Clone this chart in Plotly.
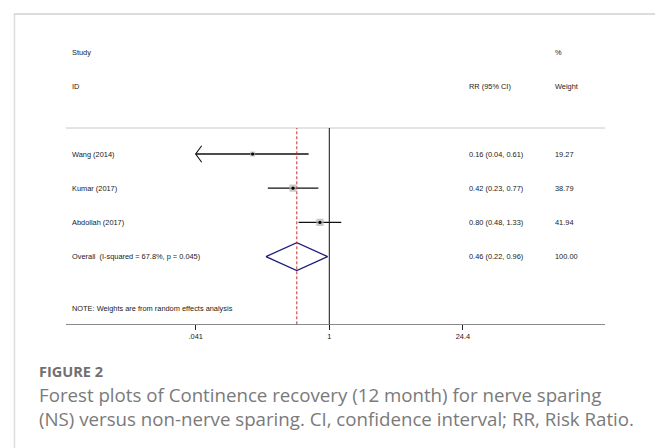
import plotly.graph_objects as go
import numpy as np

# ---------------- data ----------------
studies = ["Wang (2014)", "Kumar (2017)", "Abdollah (2017)"]
rr = [0.16, 0.42, 0.80]
ci_low = [0.04, 0.23, 0.48]
ci_high = [0.61, 0.77, 1.33]
weights = [19.27, 38.79, 41.94]
rr_text = ["0.16 (0.04, 0.61)", "0.42 (0.23, 0.77)", "0.80 (0.48, 1.33)"]
weight_text = ["19.27", "38.79", "41.94"]

overall_label = "Overall\u00a0 (I-squared = 67.8%, p = 0.045)"
overall_rr = 0.46
overall_low = 0.22
overall_high = 0.96
overall_rr_text = "0.46 (0.22, 0.96)"
overall_weight_text = "100.00"

note_text = "NOTE: Weights are from random effects analysis"
tick_vals = [0.041, 1, 24.4]
tick_text = [".041", "1", "24.4"]
axis_min = 0.041

fig_title = "FIGURE 2"
caption_lines = [
    "Forest plots of Continence recovery (12 month) for nerve sparing",
    "(NS) versus non-nerve sparing. CI, confidence interval; RR, Risk Ratio.",
]

# ---------------- layout helpers ----------------
W, H = 655, 448
def px(x):
    return x / W
def py(y):
    return (H - y) / H

PLOT_L, PLOT_R = 66, 605
PLOT_T, PLOT_B = 128, 324.3
ROW0, ROWH = 154, 34.2
XPX_ONE, XPX_PER_DEC = 329.3, 96.32

def row_of(pixel_y):
    return (pixel_y - ROW0) / ROWH

x_range = [(PLOT_L - XPX_ONE) / XPX_PER_DEC, (PLOT_R - XPX_ONE) / XPX_PER_DEC]
y_range = [row_of(PLOT_B), row_of(PLOT_T)]

TXT = dict(family="Liberation Sans, Arial, sans-serif", size=7.4, color="#1a1a1a")

fig = go.Figure()

rows = list(range(len(studies)))
overall_row = len(studies)
note_row = row_of(308)

# CI lines
xs, ys = [], []
for i in rows:
    xs += [max(ci_low[i], axis_min), ci_high[i], None]
    ys += [i, i, None]
fig.add_trace(go.Scatter(x=xs, y=ys, mode="lines",
                         line=dict(color="#111111", width=1.3),
                         hoverinfo="skip", showlegend=False))

# arrows for clipped lower CI
ax, ay = [], []
arm_dx = 10 ** (6 / XPX_PER_DEC)
arm_dy = 8.3 / ROWH
for i in rows:
    if ci_low[i] < axis_min:
        ax += [axis_min * arm_dx, axis_min, axis_min * arm_dx, None]
        ay += [i - arm_dy, i, i + arm_dy, None]
fig.add_trace(go.Scatter(x=ax, y=ay, mode="lines",
                         line=dict(color="#111111", width=1.1),
                         hoverinfo="skip", showlegend=False))

# weight boxes
fig.add_trace(go.Scatter(x=rr, y=rows, mode="markers",
                         marker=dict(symbol="square", color="#b4b4b4",
                                     size=[1.15 * np.sqrt(w) for w in weights],
                                     line=dict(width=0)),
                         hoverinfo="skip", showlegend=False))
# point estimates
fig.add_trace(go.Scatter(x=rr, y=rows, mode="markers",
                         marker=dict(symbol="circle", color="#000000", size=3.2),
                         hoverinfo="skip", showlegend=False))

# overall diamond
dh = 14 / ROWH
fig.add_trace(go.Scatter(
    x=[overall_low, overall_rr, overall_high, overall_rr, overall_low],
    y=[overall_row, overall_row - dh, overall_row, overall_row + dh, overall_row],
    mode="lines", line=dict(color="#1c1c80", width=1.3),
    hoverinfo="skip", showlegend=False))

shapes = [
    # frame
    dict(type="line", xref="paper", yref="paper", x0=px(14), x1=1.0,
         y0=py(14), y1=py(14), line=dict(color="#dcdcdc", width=2)),
    dict(type="line", xref="paper", yref="paper", x0=px(14.5), x1=px(14.5),
         y0=py(14), y1=0, line=dict(color="#dcdcdc", width=1.5)),
    # top rule of plot
    dict(type="line", xref="paper", yref="paper", x0=px(PLOT_L), x1=px(PLOT_R),
         y0=py(PLOT_T), y1=py(PLOT_T), line=dict(color="#c8c8c8", width=1)),
    # null line
    dict(type="line", xref="x", yref="y domain", x0=1, x1=1, y0=0, y1=1,
         line=dict(color="#111111", width=1)),
    # overall dashed line
    dict(type="line", xref="x", yref="y domain", x0=overall_rr, x1=overall_rr,
         y0=0, y1=1, line=dict(color="#cc2a2a", width=1, dash="3px,2px")),
]

ann = []
def add_text(x, y, text, yref="paper", font=TXT, xanchor="left"):
    ann.append(dict(x=x, y=y, xref="paper", yref=yref, text=text,
                    showarrow=False, xanchor=xanchor, yanchor="middle",
                    font=font))

X_STUDY, X_RR, X_W = px(70), px(467), px(553)
# headers
add_text(X_STUDY, py(52), "Study")
add_text(X_W, py(52), "%")
add_text(X_STUDY, py(86), "ID")
add_text(X_RR, py(86), "RR (95% CI)")
add_text(X_W, py(86), "Weight")

for i in rows:
    add_text(X_STUDY, i, studies[i], yref="y")
    add_text(X_RR, i, rr_text[i], yref="y")
    add_text(X_W, i, weight_text[i], yref="y")
add_text(X_STUDY, overall_row, overall_label, yref="y")
add_text(X_RR, overall_row, overall_rr_text, yref="y")
add_text(X_W, overall_row, overall_weight_text, yref="y")
add_text(X_STUDY, note_row, note_text, yref="y")

# caption
CAP = dict(family="Open Sans, sans-serif", size=18.7, color="#7a7a7a")
add_text(px(37), py(371), "<b>" + fig_title + "</b>",
         font=dict(family="Open Sans, sans-serif", size=14.5, color="#707070"))
add_text(px(37), py(394), caption_lines[0], font=CAP)
add_text(px(37), py(418), caption_lines[1], font=CAP)

fig.update_layout(
    width=W, height=H, margin=dict(l=0, r=0, t=0, b=0),
    paper_bgcolor="white", plot_bgcolor="white",
    shapes=shapes, annotations=ann, showlegend=False,
    xaxis=dict(type="log", domain=[px(PLOT_L), px(PLOT_R)], range=x_range,
               tickmode="array", tickvals=tick_vals, ticktext=tick_text,
               ticks="outside", ticklen=5, tickwidth=1, tickcolor="#222222",
               showline=True, linecolor="#8a8a8a", linewidth=1.3,
               showgrid=False, zeroline=False,
               tickfont=TXT, fixedrange=True),
    yaxis=dict(domain=[py(PLOT_B), py(PLOT_T)], range=y_range, visible=False,
               showgrid=False, zeroline=False, fixedrange=True),
)

fig.write_html("out.html")
